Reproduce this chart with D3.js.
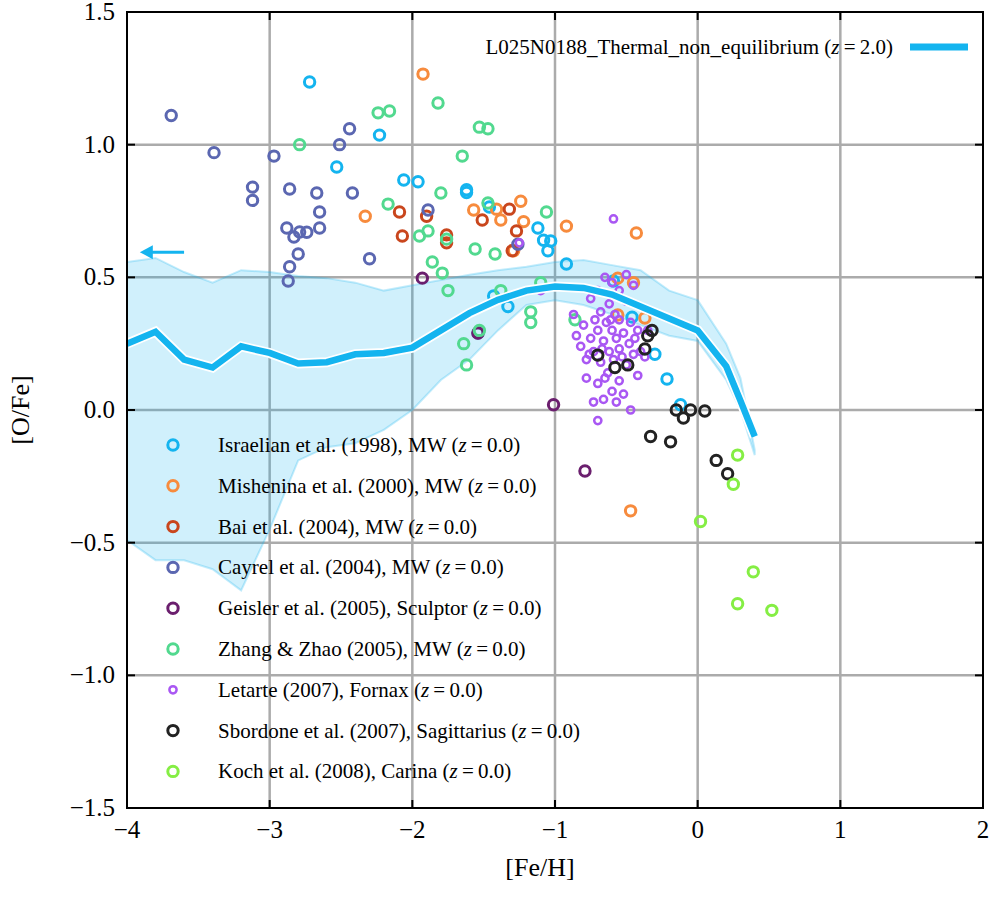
<!DOCTYPE html>
<html><head><meta charset="utf-8">
<script src="https://cdn.jsdelivr.net/npm/d3@7"></script>
<style>body{margin:0;background:#fff}text{font-family:"Liberation Serif","Times New Roman","DejaVu Serif",serif}</style>
</head><body>
<svg id="chart" width="996" height="900"></svg>
<script>
// Model curve (z = 2.0) and its scatter band
const modelFe = [-4,-3.8,-3.6,-3.4,-3.2,-3.0,-2.8,-2.6,-2.4,-2.2,-2.0,-1.8,-1.6,-1.4,-1.2,-1.0,-0.8,-0.6,-0.4,-0.2,0.0,0.2,0.3,0.4];
const modelOFe = [0.25,0.295,0.19,0.16,0.24,0.215,0.175,0.18,0.21,0.215,0.235,0.30,0.365,0.415,0.45,0.465,0.46,0.435,0.39,0.345,0.30,0.165,0.035,-0.1];
const bandHi = [0.558,0.573,0.52,0.48,0.527,0.52,0.505,0.497,0.48,0.45,0.47,0.49,0.51,0.527,0.54,0.558,0.565,0.546,0.527,0.45,0.414,0.25,0.12,-0.15];
const bandLo = [-0.49,-0.566,-0.566,-0.60,-0.68,-0.45,-0.19,-0.14,-0.125,-0.075,0.0,0.113,0.19,0.30,0.396,0.414,0.396,0.36,0.32,0.28,0.26,0.113,0.0,-0.17];

// Observational data sets: [Fe/H], [O/Fe]
const israelian = [[-2.72,1.236],[-2.23,1.036],[-2.53,0.916],[-2.06,0.867],[-1.96,0.86],[-1.62,0.83],[-1.62,0.82],[-1.46,0.765],[-1.12,0.686],[-1.08,0.64],[-1.03,0.637],[-1.05,0.60],[-0.92,0.55],[-0.59,0.486],[-0.46,0.35],[-0.30,0.21],[-0.215,0.117],[-0.12,0.02],[-1.33,0.39],[-1.43,0.43]];
const mishenina = [[-1.925,1.266],[-2.33,0.73],[-1.24,0.787],[-1.41,0.757],[-1.57,0.754],[-1.38,0.716],[-1.22,0.71],[-0.92,0.693],[-0.43,0.667],[-1.29,0.6],[-0.56,0.497],[-0.45,0.48],[-0.56,0.358],[-0.37,0.347],[-0.47,-0.38]];
const bai = [[-2.09,0.746],[-1.9,0.73],[-2.07,0.656],[-1.76,0.66],[-1.76,0.63],[-1.51,0.716],[-1.32,0.757],[-1.27,0.675],[-1.30,0.60]];
const cayrel = [[-3.69,1.11],[-3.39,0.97],[-3.12,0.84],[-3.12,0.79],[-2.97,0.957],[-2.86,0.833],[-2.67,0.818],[-2.44,1.06],[-2.51,1.0],[-2.42,0.818],[-2.88,0.686],[-2.79,0.671],[-2.83,0.652],[-2.65,0.746],[-2.65,0.686],[-2.74,0.67],[-2.80,0.588],[-2.86,0.54],[-2.87,0.486],[-2.30,0.57],[-1.89,0.754],[-1.54,0.29],[-1.26,0.625]];
const geisler = [[-1.93,0.497],[-1.01,0.02],[-0.79,-0.23],[-1.54,0.29]];
const zhang = [[-2.79,1.0],[-2.24,1.12],[-2.16,1.127],[-1.82,1.157],[-1.53,1.066],[-1.47,1.06],[-1.65,0.957],[-1.80,0.818],[-2.17,0.776],[-1.47,0.78],[-1.06,0.746],[-1.95,0.656],[-1.89,0.675],[-1.76,0.644],[-1.56,0.607],[-1.42,0.588],[-1.86,0.558],[-1.79,0.516],[-1.75,0.45],[-1.38,0.45],[-1.17,0.37],[-1.17,0.33],[-0.86,0.34],[-1.64,0.25],[-1.62,0.17],[-1.53,0.30],[-1.10,0.48]];
const letarte = [[-0.59,0.72],[-1.25,0.63],[-0.5,0.51],[-0.65,0.5],[-0.6,0.48],[-0.7,0.45],[-0.55,0.45],[-0.45,0.47],[-0.75,0.42],[-0.62,0.40],[-0.5,0.41],[-0.68,0.37],[-0.58,0.36],[-0.72,0.34],[-0.64,0.33],[-0.55,0.34],[-0.47,0.33],[-0.8,0.32],[-0.7,0.30],[-0.6,0.30],[-0.52,0.29],[-0.42,0.30],[-0.75,0.27],[-0.66,0.26],[-0.57,0.27],[-0.48,0.25],[-0.82,0.24],[-0.73,0.22],[-0.62,0.22],[-0.55,0.23],[-0.45,0.21],[-0.37,0.2],[-0.78,0.19],[-0.68,0.18],[-0.5,0.17],[-0.63,0.14],[-0.42,0.13],[-0.55,0.11],[-0.7,0.1],[-0.6,0.07],[-0.52,0.06],[-0.66,0.04],[-0.73,0.03],[-0.57,0.03],[-0.47,0.0],[-0.7,-0.04],[-0.78,0.12],[-0.85,0.28],[-0.87,0.36],[-0.35,0.3],[-1.1,0.45],[-0.76,0.21],[-0.59,0.19],[-0.67,0.23],[-0.53,0.2],[-0.44,0.27],[-0.61,0.34],[-0.65,0.12],[-0.4,0.22]];
const sbordone = [[-0.70,0.207],[-0.58,0.16],[-0.49,0.17],[-0.37,0.23],[-0.35,0.28],[-0.32,0.30],[-0.33,-0.10],[-0.19,-0.12],[-0.15,0.0],[-0.10,-0.03],[-0.05,0.0],[0.05,-0.004],[0.13,-0.19],[0.21,-0.24]];
const koch = [[0.28,-0.17],[0.25,-0.28],[0.02,-0.42],[0.39,-0.61],[0.28,-0.73],[0.52,-0.755]];

const seriesNames = ["Israelian et al. (1998), MW","Mishenina et al. (2000), MW","Bai et al. (2004), MW","Cayrel et al. (2004), MW","Geisler et al. (2005), Sculptor","Zhang & Zhao (2005), MW","Letarte (2007), Fornax","Sbordone et al. (2007), Sagittarius","Koch et al. (2008), Carina"];
const seriesData = [israelian, mishenina, bai, cayrel, geisler, zhang, letarte, sbordone, koch];
const seriesColors = ["#14b4ef","#f78b3d","#c9461d","#5b67b1","#6b1f6e","#52d98f","#a957f3","#222222","#85ee44"];

const xTicks = [-4,-3,-2,-1,0,1,2];
const yTicks = [-1.5,-1.0,-0.5,0.0,0.5,1.0,1.5];

const margin = {top: 12, right: 13, bottom: 92, left: 127};
const width = 996 - margin.left - margin.right;
const height = 900 - margin.top - margin.bottom;
const serif = "Liberation Serif, Times New Roman, DejaVu Serif, serif";

const svg = d3.select("#chart");
const g = svg.append("g").attr("transform", `translate(${margin.left},${margin.top})`);

const x = d3.scaleLinear().domain([-4, 2]).range([0, width]);
const y = d3.scaleLinear().domain([-1.5, 1.5]).range([height, 0]);

g.append("clipPath").attr("id", "clip").append("rect").attr("width", width).attr("height", height);

// grid
g.selectAll(".gx").data(xTicks.slice(1, -1)).join("line")
  .attr("x1", d => x(d)).attr("x2", d => x(d)).attr("y1", 0).attr("y2", height)
  .attr("stroke", "#ababab").attr("stroke-width", 2.5);
g.selectAll(".gy").data(yTicks.slice(1, -1)).join("line")
  .attr("y1", d => y(d)).attr("y2", d => y(d)).attr("x1", 0).attr("x2", width)
  .attr("stroke", "#ababab").attr("stroke-width", 2.5);

const plot = g.append("g").attr("clip-path", "url(#clip)");

// band
const area = d3.area().x((d, i) => x(modelFe[i])).y0((d, i) => y(bandLo[i])).y1((d, i) => y(bandHi[i]));
plot.append("path").datum(modelFe).attr("d", area)
  .attr("fill", "#14b4ef").attr("fill-opacity", 0.2)
  .attr("stroke", "#14b4ef").attr("stroke-opacity", 0.25).attr("stroke-width", 2);

// points
seriesData.forEach((data, k) => {
  const small = k === 6;
  plot.selectAll(".s" + k).data(data).join("circle")
    .attr("cx", d => x(d[0])).attr("cy", d => y(d[1]))
    .attr("r", small ? 3.6 : 5.2)
    .attr("fill", "none").attr("stroke", seriesColors[k])
    .attr("stroke-width", small ? 2.5 : 3);
});

// model line
const line = d3.line().x((d, i) => x(modelFe[i])).y(d => y(d));
plot.append("path").datum(modelOFe).attr("d", line)
  .attr("fill", "none").attr("stroke", "#fff").attr("stroke-width", 10);
plot.append("path").datum(modelOFe).attr("d", line)
  .attr("fill", "none").attr("stroke", "#14b4ef").attr("stroke-width", 6.5);

// out of range arrow
const ax = x(-3.91), ay = y(0.595);
g.append("line").attr("x1", x(-3.6)).attr("x2", ax + 8).attr("y1", ay).attr("y2", ay)
  .attr("stroke", "#14b4ef").attr("stroke-width", 3);
g.append("path").attr("d", `M${ax},${ay} l13,-7 l0,14 z`).attr("fill", "#14b4ef");

// frame
g.append("rect").attr("width", width).attr("height", height)
  .attr("fill", "none").attr("stroke", "#000").attr("stroke-width", 2);

// ticks all sides
const tickLen = 8;
xTicks.forEach(t => {
  g.append("line").attr("x1", x(t)).attr("x2", x(t)).attr("y1", height).attr("y2", height - tickLen).attr("stroke", "#000").attr("stroke-width", 2);
  g.append("line").attr("x1", x(t)).attr("x2", x(t)).attr("y1", 0).attr("y2", tickLen).attr("stroke", "#000").attr("stroke-width", 2);
});
yTicks.forEach(t => {
  g.append("line").attr("y1", y(t)).attr("y2", y(t)).attr("x1", 0).attr("x2", tickLen).attr("stroke", "#000").attr("stroke-width", 2);
  g.append("line").attr("y1", y(t)).attr("y2", y(t)).attr("x1", width).attr("x2", width - tickLen).attr("stroke", "#000").attr("stroke-width", 2);
});

const fmtX = d => d < 0 ? "\u2212" + Math.abs(d) : String(d);
const fmtY = d => d < 0 ? "\u2212" + Math.abs(d).toFixed(1) : d.toFixed(1);

g.selectAll(".xl").data(xTicks).join("text")
  .attr("font-family", serif)
  .attr("x", d => x(d)).attr("y", height + 30).attr("text-anchor", "middle")
  .attr("font-size", 25).text(fmtX);
g.selectAll(".yl").data(yTicks).join("text")
  .attr("font-family", serif)
  .attr("x", -12).attr("y", d => y(d) + 8).attr("text-anchor", "end")
  .attr("font-size", 25).text(fmtY);

g.append("text").attr("font-family", serif).attr("x", width / 2 - 15).attr("y", height + 68).attr("text-anchor", "middle")
  .attr("font-size", 26).text("[Fe/H]");
g.append("text").attr("font-family", serif).attr("transform", `translate(-98,${height / 2}) rotate(-90)`).attr("text-anchor", "middle")
  .attr("font-size", 26).text("[O/Fe]");

// legend (observations)
const leg = g.append("g");
seriesNames.forEach((name, k) => {
  const ly = 445 + k * 40.8 - margin.top;
  leg.append("circle").attr("cx", 173 - margin.left).attr("cy", ly)
    .attr("r", k === 6 ? 3.6 : 5.2).attr("fill", "none")
    .attr("stroke", seriesColors[k]).attr("stroke-width", k === 6 ? 2.5 : 3);
  const t = leg.append("text").attr("font-family", serif).attr("x", 218 - margin.left).attr("y", ly + 7).attr("font-size", 21);
  t.append("tspan").text(name + " (");
  t.append("tspan").attr("font-style", "italic").text("z");
  t.append("tspan").text("\u2009=\u20090.0)");
});

// legend (model)
const mt = g.append("text").attr("font-family", serif).attr("x", 893 - margin.left).attr("y", 54 - margin.top).attr("text-anchor", "end").attr("font-size", 21);
mt.append("tspan").text("L025N0188_Thermal_non_equilibrium (");
mt.append("tspan").attr("font-style", "italic").text("z");
mt.append("tspan").text("\u2009=\u20092.0)");
g.append("line").attr("x1", 910 - margin.left).attr("x2", 968 - margin.left)
  .attr("y1", 47 - margin.top).attr("y2", 47 - margin.top)
  .attr("stroke", "#14b4ef").attr("stroke-width", 7);
</script>
</body></html>
